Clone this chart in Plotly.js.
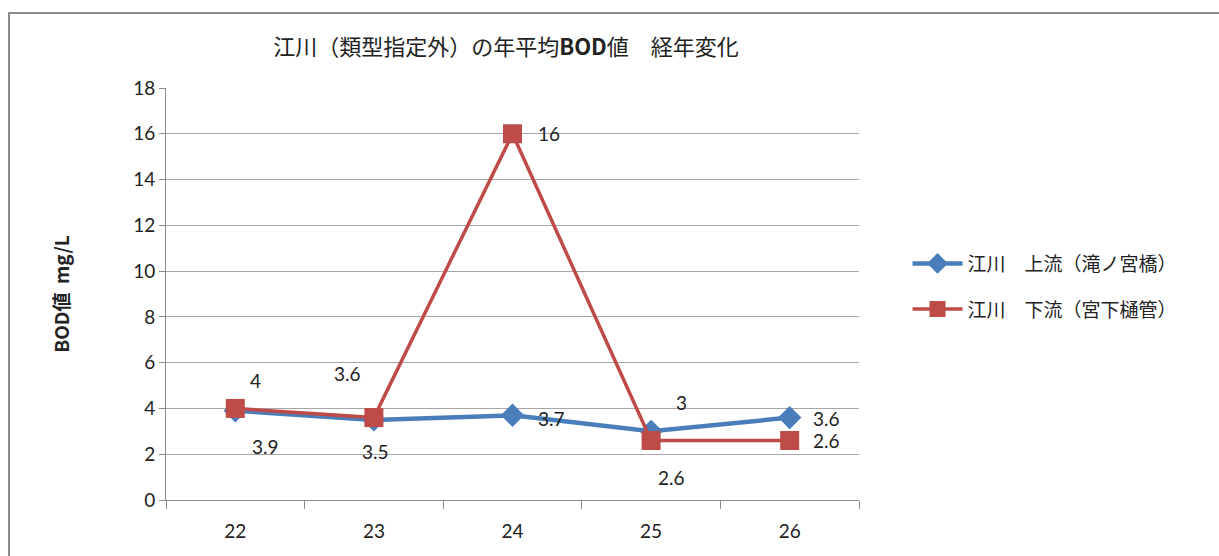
<!DOCTYPE html>
<html>
<head>
<meta charset="utf-8">
<script src="https://cdn.plot.ly/plotly-3.0.1.min.js"></script>
<style>
html,body{margin:0;padding:0;background:#fff;}
#wrap{position:relative;width:1219px;height:556px;overflow:hidden;}
#chart{position:absolute;left:0;top:0;width:1219px;height:556px;}
#frame{position:absolute;left:8px;top:12px;width:1300px;height:700px;border-top:2px solid #8c8c8c;border-left:2px solid #8c8c8c;pointer-events:none;}
</style>
</head>
<body>
<div id="wrap"><div id="chart"></div><div id="frame"></div></div>
<script>
const years = ["22", "23", "24", "25", "26"];
const upstreamName = "江川　上流（滝ノ宮橋）";
const downstreamName = "江川　下流（宮下樋管）";
const upstream = [3.9, 3.5, 3.7, 3, 3.6];
const downstream = [4, 3.6, 16, 2.6, 2.6];
const yTicks = [0, 2, 4, 6, 8, 10, 12, 14, 16, 18];

// label offsets in pixels (style only)
const upOffsets = [[30, -36], [2, -32], [39, -3], [30, 29], [37, -1]];
const downOffsets = [[20, 28], [-26, 44], [36, 0], [20, -37], [37, 0]];

const numFont = "Lato, 'Noto Sans CJK JP', sans-serif";
const jpFont = "'Noto Sans CJK JP', sans-serif";

const traces = [
  {
    x: years, y: upstream, name: upstreamName, type: "scatter", mode: "lines+markers",
    legendgroup: "a",
    line: {color: "#4a7ebb", width: 4.5},
    marker: {symbol: "diamond", size: 18, color: "#4a7ebb"}
  },
  {
    x: years, y: downstream, name: downstreamName, type: "scatter", mode: "lines+markers",
    legendgroup: "b",
    line: {color: "#be4b48", width: 3.5},
    marker: {symbol: "square", size: 19, color: "#be4b48"}
  }
];

const annotations = [];
function addLabels(vals, offs) {
  vals.forEach((v, i) => {
    annotations.push({
      x: i, y: v, xref: "x", yref: "y", text: String(v), showarrow: false,
      xshift: offs[i][0], yshift: offs[i][1],
      font: {family: numFont, size: 19, color: "#222"}
    });
  });
}
addLabels(upstream, upOffsets);
addLabels(downstream, downOffsets);

const layout = {
  width: 1219, height: 556,
  margin: {l: 166, r: 360, t: 88, b: 56},
  paper_bgcolor: "rgba(0,0,0,0)", plot_bgcolor: "#fff",
  title: {text: "江川（類型指定外）の年平均<b>BOD</b>値　経年変化", x: 506 / 1219, xanchor: "center", y: 1 - 47 / 556, yanchor: "middle",
    font: {family: jpFont, size: 22, color: "#222"}},
  xaxis: {
    type: "category", range: [-0.5, 4.5], showgrid: false, showline: true, linecolor: "#8c8c8c", linewidth: 1,
    ticks: "outside", tickson: "boundaries", ticklen: 8, tickcolor: "#8c8c8c", tickangle: 0,
    ticklabelstandoff: 14,
    tickfont: {family: numFont, size: 19, color: "#222"}, zeroline: false
  },
  yaxis: {
    range: [0, 18], tickvals: yTicks, ticktext: yTicks.map(String),
    showgrid: true, gridcolor: "#a6a6a6", gridwidth: 1,
    showline: true, linecolor: "#8c8c8c", linewidth: 1,
    ticks: "outside", ticklen: 6, tickcolor: "#8c8c8c",
    tickfont: {family: numFont, size: 19, color: "#222"}, zeroline: false,
    title: {text: "<b>BOD値  mg/L</b>", font: {family: jpFont, size: 19, color: "#222"}, standoff: 58}
  },
  legend: {
    x: 1.07, xanchor: "left", y: 0.62, yanchor: "top",
    font: {family: jpFont, size: 19, color: "#222"},
    itemwidth: 50, tracegroupgap: 18, bgcolor: "rgba(0,0,0,0)"
  },
  showlegend: true,
  annotations: annotations
};

Plotly.newPlot("chart", traces, layout, {displayModeBar: false, staticPlot: true});
</script>
</body>
</html>
